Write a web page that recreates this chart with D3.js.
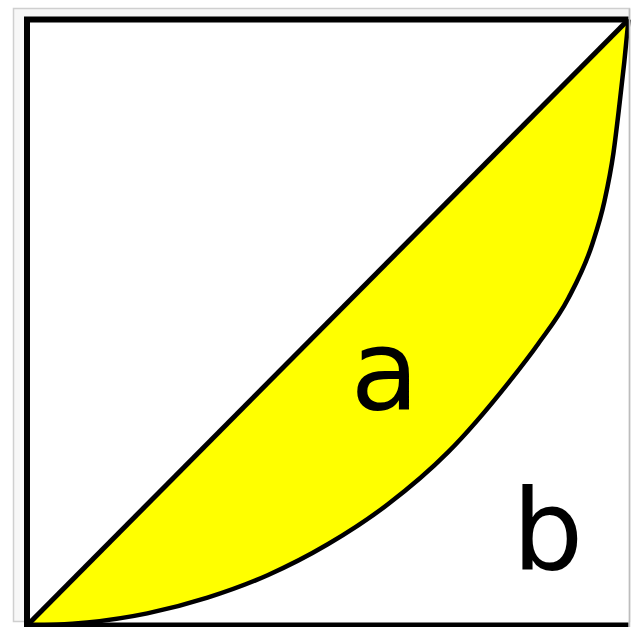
<!DOCTYPE html>
<html>
<head>
<meta charset="utf-8">
<script src="https://cdn.jsdelivr.net/npm/d3@7"></script>
<style>
  html, body { margin: 0; padding: 0; background: #ffffff; }
  svg { display: block; }
</style>
</head>
<body>
<svg id="chart" width="631" height="627"></svg>
<script>
// Cumulative share of population (x) and cumulative share of income (y) — Lorenz curve
const populationShare = [0, 0.05, 0.1, 0.2, 0.3, 0.4, 0.5, 0.6, 0.7, 0.8, 0.85, 0.9, 0.94, 0.96, 0.975, 0.985, 0.993, 1];
const incomeShare     = [0, 0.0013, 0.005, 0.020, 0.046, 0.083, 0.134, 0.200, 0.286, 0.400, 0.465, 0.540, 0.630, 0.700, 0.780, 0.860, 0.930, 1];
// Line of perfect equality
const equalityX = [0, 1];
const equalityY = [0, 1];
// Area labels
const areaLabels = ["a", "b"];

const svg = d3.select("#chart");

const x = d3.scaleLinear().domain([0, 1]).range([27, 628.5]);
const y = d3.scaleLinear().domain([0, 1]).range([625.5, 19.5]);

// faint thumbnail background band + border
svg.append("rect")
  .attr("x", 13.5).attr("y", 8.5)
  .attr("width", 629.5 - 13.5).attr("height", 621.5 - 8.5)
  .attr("fill", "#f7f7f7")
  .attr("stroke", "#cfcfcf")
  .attr("stroke-width", 1.5);

// white plot area
svg.append("rect")
  .attr("x", x(0)).attr("y", y(1))
  .attr("width", x(1) - x(0)).attr("height", y(0) - y(1))
  .attr("fill", "#ffffff");

const curvePts = populationShare.map((p, i) => [p, incomeShare[i]]);

const lorenz = d3.line()
  .x(d => x(d[0])).y(d => y(d[1]))
  .curve(d3.curveMonotoneX);

// yellow area between equality line and Lorenz curve
svg.append("path")
  .attr("d", lorenz(curvePts) + "Z")
  .attr("fill", "#ffff00")
  .attr("stroke", "none");

// Lorenz curve stroke
svg.append("path")
  .attr("d", lorenz(curvePts))
  .attr("fill", "none")
  .attr("stroke", "#000")
  .attr("stroke-width", 4.5)
  .attr("stroke-linejoin", "round");

// equality diagonal
svg.append("path")
  .attr("d", d3.line().x(d => x(d[0])).y(d => y(d[1]))(equalityX.map((v, i) => [v, equalityY[i]])))
  .attr("fill", "none")
  .attr("stroke", "#000")
  .attr("stroke-width", 5);

// frame (left, top, bottom)
const frame = d3.path();
frame.moveTo(x(1), y(1));
frame.lineTo(x(0), y(1));
frame.lineTo(x(0), y(0));
frame.lineTo(x(1), y(0));
svg.append("path")
  .attr("d", frame.toString())
  .attr("fill", "none")
  .attr("stroke", "#000")
  .attr("stroke-width", 6)
  .attr("stroke-linejoin", "miter");

// right border of thumbnail (light gray)
svg.append("line")
  .attr("x1", 629.5).attr("x2", 629.5)
  .attr("y1", 8.5).attr("y2", 627)
  .attr("stroke", "#bdbdbd").attr("stroke-width", 1.5);

// labels
const labelAnchors = [[0.595, 0.358], [0.866, 0.094]];
svg.selectAll("text.lbl")
  .data(areaLabels)
  .join("text")
  .attr("class", "lbl")
  .attr("x", (d, i) => x(labelAnchors[i][0]))
  .attr("y", (d, i) => y(labelAnchors[i][1]))
  .attr("text-anchor", "middle")
  .attr("font-family", "DejaVu Sans, Verdana, sans-serif")
  .attr("font-size", 112)
  .attr("fill", "#000")
  .text(d => d);
</script>
</body>
</html>
